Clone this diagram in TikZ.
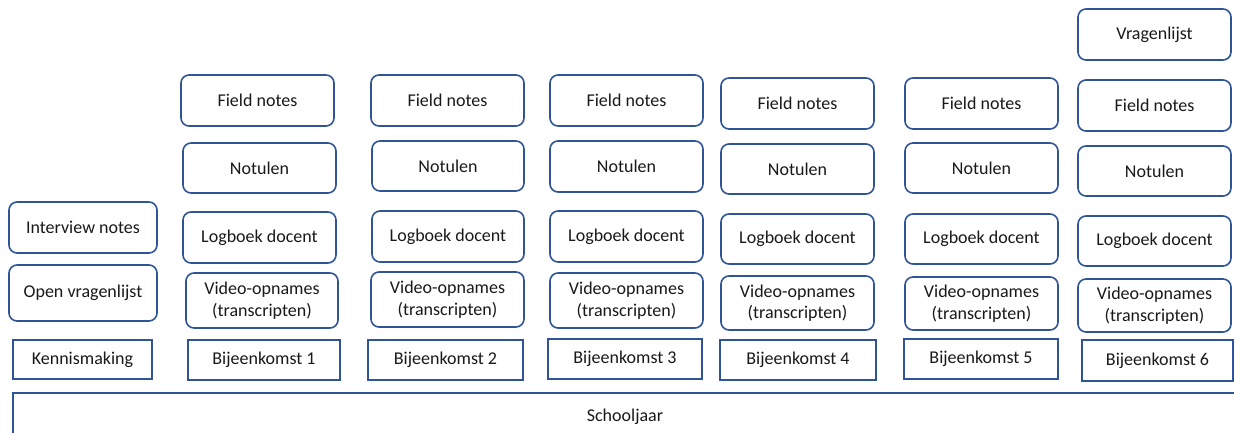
\documentclass[tikz,border=0pt]{standalone}
\usepackage{fontspec}
\setmainfont{Carlito}
\definecolor{bord}{RGB}{47,85,151}
\definecolor{txt}{RGB}{25,25,25}
\tikzset{
  base/.style={draw=bord, line width=1.6pt, inner sep=0pt, align=center, text=txt, font=\fontsize{18}{21.5}\selectfont},
  rbox/.style={base, rounded corners=8pt},
  sbox/.style={base},
}
\newcommand{\bx}[7]{\node[#1, minimum width=#4, minimum height=#5] (#2) at (#6,-#7) {#3};}
\begin{document}
\begin{tikzpicture}[x=1pt,y=1pt]
\useasboundingbox (0,0) rectangle (1234,-432);
\clip (0,0) rectangle (1234,-432);
\fill[white] (0,0) rectangle (1234,-432);
% column 0
\bx{rbox}{int}{Interview notes}{148pt}{51pt}{83}{227.5}
\bx{rbox}{open}{Open vragenlijst}{148pt}{56pt}{83}{293}
\bx{sbox}{kenn}{Kennismaking}{139pt}{39pt}{82.5}{359.5}
% column 1
\bx{rbox}{fn1}{Field notes}{153pt}{51pt}{257.5}{100.5}
\bx{rbox}{no1}{Notulen}{153pt}{50pt}{259.5}{168}
\bx{rbox}{lb1}{Logboek docent}{153pt}{51pt}{259.5}{237.5}
\bx{rbox}{vi1}{Video-opnames\\(transcripten)}{152pt}{55pt}{262}{300.5}
\bx{sbox}{bk1}{Bijeenkomst 1}{152pt}{40pt}{264}{360}
% column 2
\bx{rbox}{fn2}{Field notes}{153pt}{51pt}{447.5}{100.5}
\bx{rbox}{no2}{Notulen}{152pt}{50pt}{448}{166}
\bx{rbox}{lb2}{Logboek docent}{152pt}{51pt}{448}{236.5}
\bx{rbox}{vi2}{Video-opnames\\(transcripten)}{153pt}{55pt}{447.5}{299.5}
\bx{sbox}{bk2}{Bijeenkomst 2}{155pt}{40pt}{445.5}{360}
% column 3
\bx{rbox}{fn3}{Field notes}{153pt}{51pt}{626.5}{100.5}
\bx{rbox}{no3}{Notulen}{153pt}{51pt}{626.5}{166.5}
\bx{rbox}{lb3}{Logboek docent}{153pt}{51pt}{626.5}{236.5}
\bx{rbox}{vi3}{Video-opnames\\(transcripten)}{153pt}{55pt}{626.5}{300.5}
\bx{sbox}{bk3}{Bijeenkomst 3}{154pt}{40pt}{625}{359}
% column 4
\bx{rbox}{fn4}{Field notes}{153pt}{51pt}{797.5}{103.5}
\bx{rbox}{no4}{Notulen}{153pt}{50pt}{797.5}{169}
\bx{rbox}{lb4}{Logboek docent}{153pt}{50pt}{797.5}{239}
\bx{rbox}{vi4}{Video-opnames\\(transcripten)}{153pt}{54pt}{797.5}{303}
\bx{sbox}{bk4}{Bijeenkomst 4}{156pt}{40pt}{798}{360}
% column 5
\bx{rbox}{fn5}{Field notes}{153pt}{51pt}{981.5}{103.5}
\bx{rbox}{no5}{Notulen}{153pt}{50pt}{981.5}{168}
\bx{rbox}{lb5}{Logboek docent}{153pt}{50pt}{981.5}{239}
\bx{rbox}{vi5}{Video-opnames\\(transcripten)}{153pt}{53pt}{981.5}{303.5}
\bx{sbox}{bk5}{Bijeenkomst 5}{154pt}{40pt}{981}{359}
% column 6
\bx{rbox}{vr}{Vragenlijst}{153pt}{51pt}{1154.5}{34.5}
\bx{rbox}{fn6}{Field notes}{153pt}{51pt}{1154.5}{105.5}
\bx{rbox}{no6}{Notulen}{153pt}{50pt}{1154.5}{171}
\bx{rbox}{lb6}{Logboek docent}{153pt}{50pt}{1154.5}{241}
\bx{rbox}{vi6}{Video-opnames\\(transcripten)}{153pt}{53pt}{1154.5}{305.5}
\bx{sbox}{bk6}{Bijeenkomst 6}{151pt}{41pt}{1157.5}{360.5}
% school year
\bx{sbox}{sj}{Schooljaar}{1224pt}{48pt}{625}{417}
\end{tikzpicture}
\end{document}
